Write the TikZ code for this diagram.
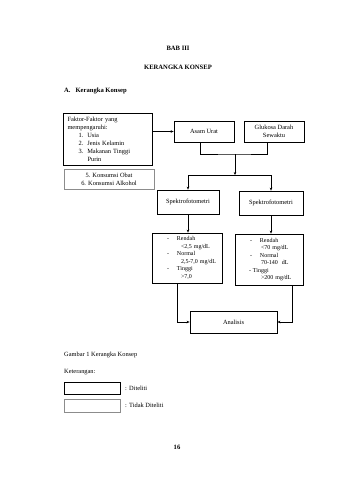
\documentclass[tikz,border=0pt]{standalone}
\usepackage{fontspec}
\setmainfont{Liberation Serif}
\usetikzlibrary{arrows.meta}
\begin{document}
\begin{tikzpicture}[x=1pt,y=-1pt,font=\fontsize{6.4}{8}\selectfont,
  diteliti/.style={draw,line width=0.8pt,inner sep=0pt},
  tidakditeliti/.style={draw=black!45,line width=0.8pt,inner sep=0pt},
  panah/.style={-{Stealth[length=3pt,width=2.6pt]},line width=0.5pt},
  garis/.style={line width=0.5pt}]
\useasboundingbox (0,0) rectangle (340,480);
% judul
\node[font=\fontsize{6.6}{8}\selectfont\bfseries] (bab) at (178,48) {BAB III};
\node[font=\fontsize{6.6}{8}\selectfont\bfseries] (judul) at (178,67) {KERANGKA KONSEP};
\node[font=\fontsize{6.6}{8}\selectfont\bfseries,anchor=west,inner sep=0pt] (subjudul) at (64,91) {A.\hspace{5pt}Kerangka Konsep};
% kotak kiri
\node[diteliti,minimum width=89pt,minimum height=52pt,text width=81pt,align=left] (faktor) at (108,139)
  {Faktor-Faktor yang\\mempengaruhi:\\\hspace*{11pt}1.\hspace{4pt}Usia\\\hspace*{11pt}2.\hspace{4pt}Jenis Kelamin\\\hspace*{11pt}3.\hspace{4pt}Makanan Tinggi\\\hspace*{20pt}Purin};
\node[tidakditeliti,minimum width=90pt,minimum height=20pt,align=center] (konsumsi) at (109,179) {5. Konsumsi Obat\\6. Konsumsi Alkohol};
% variabel
\node[diteliti,minimum width=60pt,minimum height=21pt] (asam) at (204,131.5) {Asam Urat};
\node[diteliti,minimum width=60pt,minimum height=21pt,align=center] (glukosa) at (274,131.5) {Glukosa Darah\\Sewaktu};
\node[diteliti,minimum width=62pt,minimum height=24pt] (spek1) at (188,202) {Spektrofotometri};
\node[diteliti,minimum width=64pt,minimum height=24pt] (spek2) at (271,203) {Spektrofotometri};
% hasil
\node[diteliti,minimum width=70pt,minimum height=50pt,text width=70pt,align=left,font=\fontsize{6}{7.5}\selectfont] (hasil1) at (187,258)
  {\hspace*{15pt}\makebox[10pt][l]{-}Rendah\\\hspace*{29pt}<2,5 mg/dL\\\hspace*{15pt}\makebox[10pt][l]{-}Normal\\\hspace*{29pt}2,5-7,0 mg/dL\\\hspace*{15pt}\makebox[10pt][l]{-}Tinggi\\\hspace*{29pt}>7,0};
\node[diteliti,minimum width=68pt,minimum height=51pt,text width=68pt,align=left,font=\fontsize{6}{7.5}\selectfont] (hasil2) at (269,259.5)
  {\hspace*{15pt}\makebox[10pt][l]{-}Rendah\\\hspace*{26pt}<70 mg/dL\\\hspace*{15pt}\makebox[10pt][l]{-}Normal\\\hspace*{26pt}70-140\hspace{4pt}dL\\\hspace*{14pt}- Tinggi\\\hspace*{26pt}>200 mg/dL};
\node[diteliti,minimum width=87pt,minimum height=22pt] (analisis) at (233.5,322) {Analisis};
% penghubung
\coordinate (j1) at (235,154);
\coordinate (j2) at (235,175);
\draw[panah] (faktor.east |- asam) -- (asam.west);
\draw[garis] ([xshift=-4pt]asam.south) |- (j1) -| ([xshift=-7pt]glukosa.south);
\draw[panah] (j1) -- (j2);
\draw[panah] (j2) -| (spek1.north);
\draw[panah] (j2) -| (spek2.north);
\draw[panah] (spek1.south) -- (spek1.south |- hasil1.north);
\draw[panah] (spek2.south) -- (spek2.south |- hasil2.north);
\draw[panah] ([xshift=-10pt]hasil1.south) |- (analisis.west);
\draw[panah] ([xshift=23pt]hasil2.south) |- (analisis.east);
% keterangan
\node[anchor=west,inner sep=0pt] (gambar) at (64,355) {Gambar 1 Kerangka Konsep};
\node[anchor=west,inner sep=0pt] (ket) at (64,372) {Keterangan:};
\node[diteliti,minimum width=56pt,minimum height=12pt] (leg1) at (92,388) {};
\node[tidakditeliti,minimum width=56pt,minimum height=13pt] (leg2) at (92,405.5) {};
\node[anchor=west,inner sep=0pt] (legteks1) at (125,388) {: Diteliti};
\node[anchor=west,inner sep=0pt] (legteks2) at (125,405.5) {: Tidak Diteliti};
\node[font=\fontsize{6.6}{8}\selectfont\bfseries] (hal) at (177,447) {16};
\end{tikzpicture}
\end{document}
